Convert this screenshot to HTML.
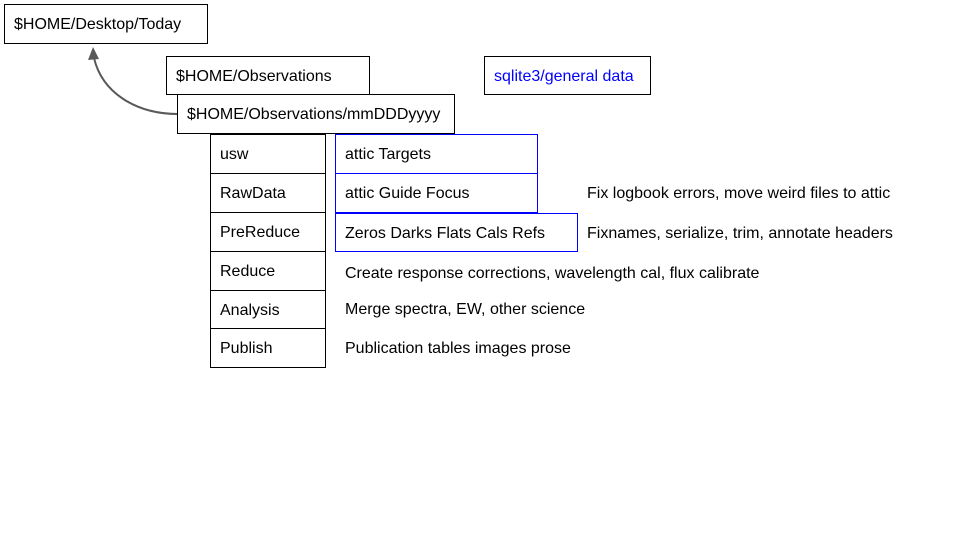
<!DOCTYPE html>
<html><head><style>
body{margin:0;width:960px;height:540px;background:#fff;position:relative;overflow:hidden;font-family:"Liberation Sans",sans-serif;font-size:16px;color:#000}
.b{position:absolute;box-sizing:border-box;border:1px solid #000;background:#fff;padding-left:9px;padding-top:2px;display:flex;align-items:center}
.bl{border:1px solid #0000ff}
.t{position:absolute;white-space:nowrap}
</style></head><body>
<svg width="960" height="540" style="position:absolute;left:0;top:0">
<path d="M178,114 C135,114 102,92 94,58" fill="none" stroke="#595959" stroke-width="2"/>
<polygon points="93,47 88,60 99,59" fill="#595959"/>
</svg>
<div class="b" style="left:4px;top:4px;width:204px;height:40px">$HOME/Desktop/Today</div>
<div class="b" style="left:166px;top:56px;width:204px;height:39px">$HOME/Observations</div>
<div class="b" style="left:484px;top:56px;width:167px;height:39px;color:#0000ff">sqlite3/general data</div>
<div class="b" style="left:177px;top:94px;width:278px;height:40px">$HOME/Observations/mmDDDyyyy</div>
<div class="b" style="left:210px;top:134px;width:116px;height:40px">usw</div>
<div class="b" style="left:210px;top:173px;width:116px;height:40px">RawData</div>
<div class="b" style="left:210px;top:212px;width:116px;height:40px">PreReduce</div>
<div class="b" style="left:210px;top:251px;width:116px;height:40px">Reduce</div>
<div class="b" style="left:210px;top:290px;width:116px;height:39px">Analysis</div>
<div class="b" style="left:210px;top:328px;width:116px;height:40px">Publish</div>
<div class="b bl" style="left:335px;top:134px;width:203px;height:40px">attic Targets</div>
<div class="b bl" style="left:335px;top:173px;width:203px;height:40px">attic Guide Focus</div>
<div class="b bl" style="left:335px;top:213px;width:243px;height:39px">Zeros Darks Flats Cals Refs</div>
<div class="t" style="left:587px;top:185px">Fix logbook errors, move weird files to attic</div>
<div class="t" style="left:587px;top:225px">Fixnames, serialize, trim, annotate headers</div>
<div class="t" style="left:345px;top:265px">Create response corrections, wavelength cal, flux calibrate</div>
<div class="t" style="left:345px;top:301px">Merge spectra, EW, other science</div>
<div class="t" style="left:345px;top:340px">Publication tables images prose</div>
</body></html>
